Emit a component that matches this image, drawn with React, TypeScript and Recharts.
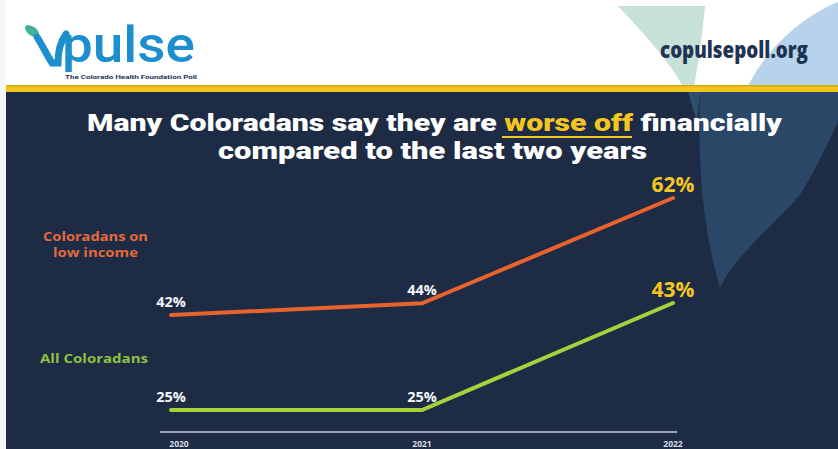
import React from 'react';
import { LineChart, Line, XAxis, YAxis, LabelList } from 'recharts';

const years = ['2020', '2021', '2022'];
const lowIncomeValues = [42, 44, 62];
const allColoradansValues = [25, 25, 43];
const seriesNames = ['Coloradans on low income', 'All Coloradans'];

const data = years.map((y, i) => ({ year: y, low: lowIncomeValues[i], all: allColoradansValues[i] }));

const NAVY = '#1d2b44';
const ORANGE = '#e8632c';
const GREEN = '#a5d23b';
const YELLOW = '#f4c620';
const FONT = '"Open Sans", "Noto Sans", sans-serif';
const TITLE_FONT = 'Roboto, "Liberation Sans", sans-serif';

const ValueLabel = (props: any) => {
  const { x, y, value, index } = props;
  const last = index === years.length - 1;
  return (
    <text
      x={x}
      y={y - 14}
      textAnchor="middle"
      dominantBaseline="central"
      fill={last ? YELLOW : '#f4f6f8'}
      fontSize={last ? 21 : 14.5}
      fontWeight={700}
      fontFamily={FONT}
    >
      {value}%
    </text>
  );
};

const Tick = (props: any) => {
  const { x, y, payload, index } = props;
  return (
    <text
      x={index === 0 ? x + 8 : x}
      y={y + 3}
      textAnchor="middle"
      dominantBaseline="central"
      fill="#d8dde4"
      fontSize={8.5}
      fontWeight={700}
      fontFamily={FONT}
    >
      {payload.value}
    </text>
  );
};

const Background = () => (
  <svg width={838} height={449} style={{ position: 'absolute', left: 0, top: 0 }}>
    <rect x={0} y={0} width={838} height={449} fill="#f4f6f8" />
    <rect x={6} y={0} width={832} height={92} fill="#ffffff" />
    {/* header decorations */}
    <path d="M618 6 L705 6 C702 40 697 70 693 92 L686 92 C670 60 640 30 618 6 Z" fill="#c6e2d8" />
    <path d="M838 2 C795 20 762 55 745 92 L838 92 Z" fill="#b6d3eb" />
    {/* navy body */}
    <rect x={6} y={92} width={832} height={357} fill={NAVY} />
    <path d="M700 92 L838 92 L838 122 C825 150 815 170 800 195 C770 230 735 255 720 288 C712 260 704 220 701 180 C699 140 699 110 700 92 Z" fill="#2a4767" />
    <path d="M688 92 L700 92 L697 122 Z" fill="#2e4f6b" />
    {/* yellow stripe */}
    <rect x={6} y={85} width={832} height={7} fill="#f1c51c" />
    <rect x={6} y={85} width={832} height={1.5} fill="#d8a90f" />
    {/* logo */}
    <ellipse cx={32} cy={31} rx={8} ry={4.5} transform="rotate(35 32 31)" fill="#3fb39a" />
    <path d="M37 37 C42 45 47 55 52 63 L58 63 C58 52 60 42 66 34" stroke="#1d8fcf" strokeWidth={7} fill="none" strokeLinecap="round" />
    <text x={62} y={62} fontSize={50} fontFamily={TITLE_FONT} fontWeight={500} fill="#1d8fcf" textLength={133} lengthAdjust="spacingAndGlyphs">pulse</text>
    <text x={65} y={79} fontSize={5.5} fontFamily={TITLE_FONT} fontWeight={700} fill="#27365a" textLength={132} lengthAdjust="spacingAndGlyphs">The Colorado Health Foundation Poll</text>
    <text x={660} y={58} fontSize={22} fontFamily={FONT} fontWeight={800} fill="#1f3352" textLength={148} lengthAdjust="spacingAndGlyphs">copulsepoll.org</text>
    {/* title */}
    <text x={87} y={130.5} fontSize={23} fontFamily={TITLE_FONT} fontWeight={900} fill="#ffffff" textLength={695} lengthAdjust="spacingAndGlyphs">
      Many Coloradans say they are <tspan fill={YELLOW}>worse off</tspan> financially
    </text>
    <line x1={502} y1={137} x2={632} y2={137} stroke={YELLOW} strokeWidth={2} />
    <text x={218} y={158.5} fontSize={23} fontFamily={TITLE_FONT} fontWeight={900} fill="#ffffff" textLength={429} lengthAdjust="spacingAndGlyphs">
      compared to the last two years
    </text>
    {/* series labels */}
    <text x={43} y={241} fontSize={12} fontFamily={FONT} fontWeight={700} fill="#e2693c" textLength={105} lengthAdjust="spacingAndGlyphs">Coloradans on</text>
    <text x={53} y={257} fontSize={12} fontFamily={FONT} fontWeight={700} fill="#e2693c" textLength={85} lengthAdjust="spacingAndGlyphs">low income</text>
    <text x={40} y={363} fontSize={12} fontFamily={FONT} fontWeight={700} fill="#8fc13f" textLength={108} lengthAdjust="spacingAndGlyphs">{seriesNames[1]}</text>
  </svg>
);

export default function App() {
  return (
    <div style={{ position: 'absolute', left: 0, top: 0, width: 838, height: 449, overflow: 'hidden' }}>
      <Background />
      <div style={{ position: 'absolute', left: 0, top: 0 }}>
        <LineChart width={838} height={449} data={data} margin={{ top: 93, right: 161, bottom: 0, left: 160 }}>
          <XAxis
            dataKey="year"
            height={17}
            padding={{ left: 11, right: 4 }}
            axisLine={{ stroke: '#c9ced6', strokeWidth: 1.5 }}
            tickLine={false}
            tick={<Tick />}
            interval={0}
          />
          <YAxis yAxisId="low" hide domain={[22, 79.95]} type="number" allowDataOverflow />
          <YAxis yAxisId="all" hide domain={[21.3, 78.33]} type="number" allowDataOverflow />
          <Line
            yAxisId="low"
            dataKey="low"
            name={seriesNames[0]}
            type="linear"
            stroke={ORANGE}
            strokeWidth={4}
            strokeLinecap="round"
            dot={false}
            isAnimationActive={false}
          >
            <LabelList dataKey="low" content={<ValueLabel />} />
          </Line>
          <Line
            yAxisId="all"
            dataKey="all"
            name={seriesNames[1]}
            type="linear"
            stroke={GREEN}
            strokeWidth={4}
            strokeLinecap="round"
            dot={false}
            isAnimationActive={false}
          >
            <LabelList dataKey="all" content={<ValueLabel />} />
          </Line>
        </LineChart>
      </div>
    </div>
  );
}
